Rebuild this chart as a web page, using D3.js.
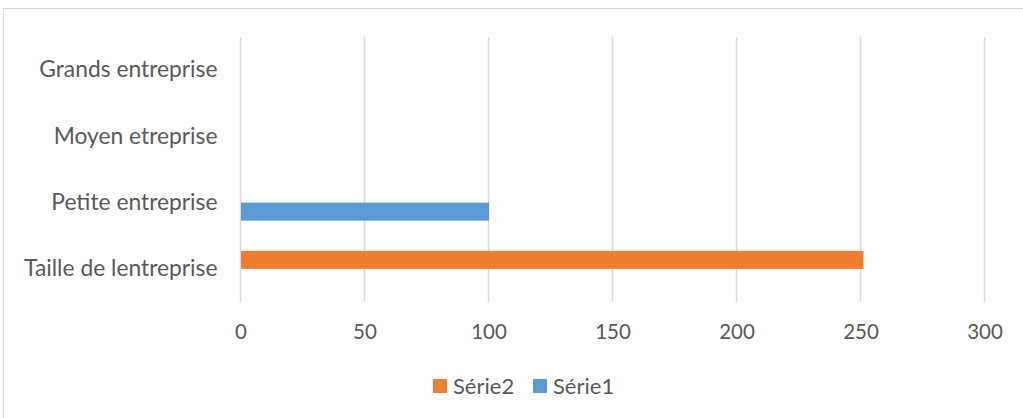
<!DOCTYPE html>
<html><head><meta charset="utf-8">
<script src="https://cdn.jsdelivr.net/npm/d3@7"></script>
<style>body{margin:0;background:#fff}svg{display:block}</style>
</head><body>
<svg id="c" width="1023" height="418"></svg>
<script>
const categories = ["Taille de lentreprise", "Petite entreprise", "Moyen etreprise", "Grands entreprise"];
const serie1 = [0, 100, 0, 0];
const serie2 = [251, 0, 0, 0];
const seriesNames = ["Série1", "Série2"];
const xTicks = [0, 50, 100, 150, 200, 250, 300];
const colors = {"Série1": "#5b9bd5", "Série2": "#ed7d31"};

(function () {
const svg = d3.select("#c");
const font = "Lato, 'Open Sans', sans-serif";
const textCol = "#595959";

svg.append("rect").attr("x", 3.5).attr("y", 8.5).attr("width", 1030).attr("height", 420)
  .attr("fill", "#fff").attr("stroke", "#d9d9d9").attr("stroke-width", 1);

const pL = 240.5, pR = 984.5, pT = 37, pB = 302;
const x = d3.scaleLinear().domain([0, 300]).range([pL, pR]);
const y = d3.scaleBand().domain(categories.slice().reverse()).range([pT, pB]);
const inner = d3.scaleBand().domain(["Série2", "Série1"]).range([0, y.bandwidth()]).paddingInner(0).paddingOuter(0.84);

svg.append("g").selectAll("line").data(xTicks).join("line")
  .attr("x1", d => x(d)).attr("x2", d => x(d)).attr("y1", pT).attr("y2", pB)
  .attr("stroke", "#d9d9d9").attr("stroke-width", 1.5);

const xa = svg.append("g").attr("transform", `translate(0,${pB})`)
  .call(d3.axisBottom(x).tickValues(xTicks).tickSize(0).tickPadding(22));
xa.select(".domain").remove();
xa.selectAll("text").attr("fill", textCol).style("font-family", font).style("font-size", "20.5px");

const ya = svg.append("g").attr("transform", `translate(${pL},0)`)
  .call(d3.axisLeft(y).tickSize(0).tickPadding(23));
ya.select(".domain").remove();
ya.selectAll("text").attr("fill", textCol).style("font-family", font).style("font-size", "22.8px");

const rows = categories.map((c, i) => ({cat: c, "Série1": serie1[i], "Série2": serie2[i]}));
const g = svg.append("g");
seriesNames.forEach(s => {
  g.selectAll(null).data(rows.filter(r => r[s] > 0)).join("rect")
    .attr("x", x(0) + 0.5)
    .attr("y", d => y(d.cat) + inner(s))
    .attr("width", d => x(d[s]) - x(0))
    .attr("height", inner.bandwidth())
    .attr("fill", colors[s]);
});

const legendItems = [{name: "Série2", x: 433}, {name: "Série1", x: 533}];
const lg = svg.append("g");
legendItems.forEach(it => {
  lg.append("rect").attr("x", it.x).attr("y", 379).attr("width", 14).attr("height", 14).attr("fill", colors[it.name]);
  lg.append("text").attr("x", it.x + 20).attr("y", 386).attr("dy", "0.35em")
    .attr("fill", textCol).style("font-family", font).style("font-size", "22px").text(it.name);
});
})();
</script>
</body></html>
